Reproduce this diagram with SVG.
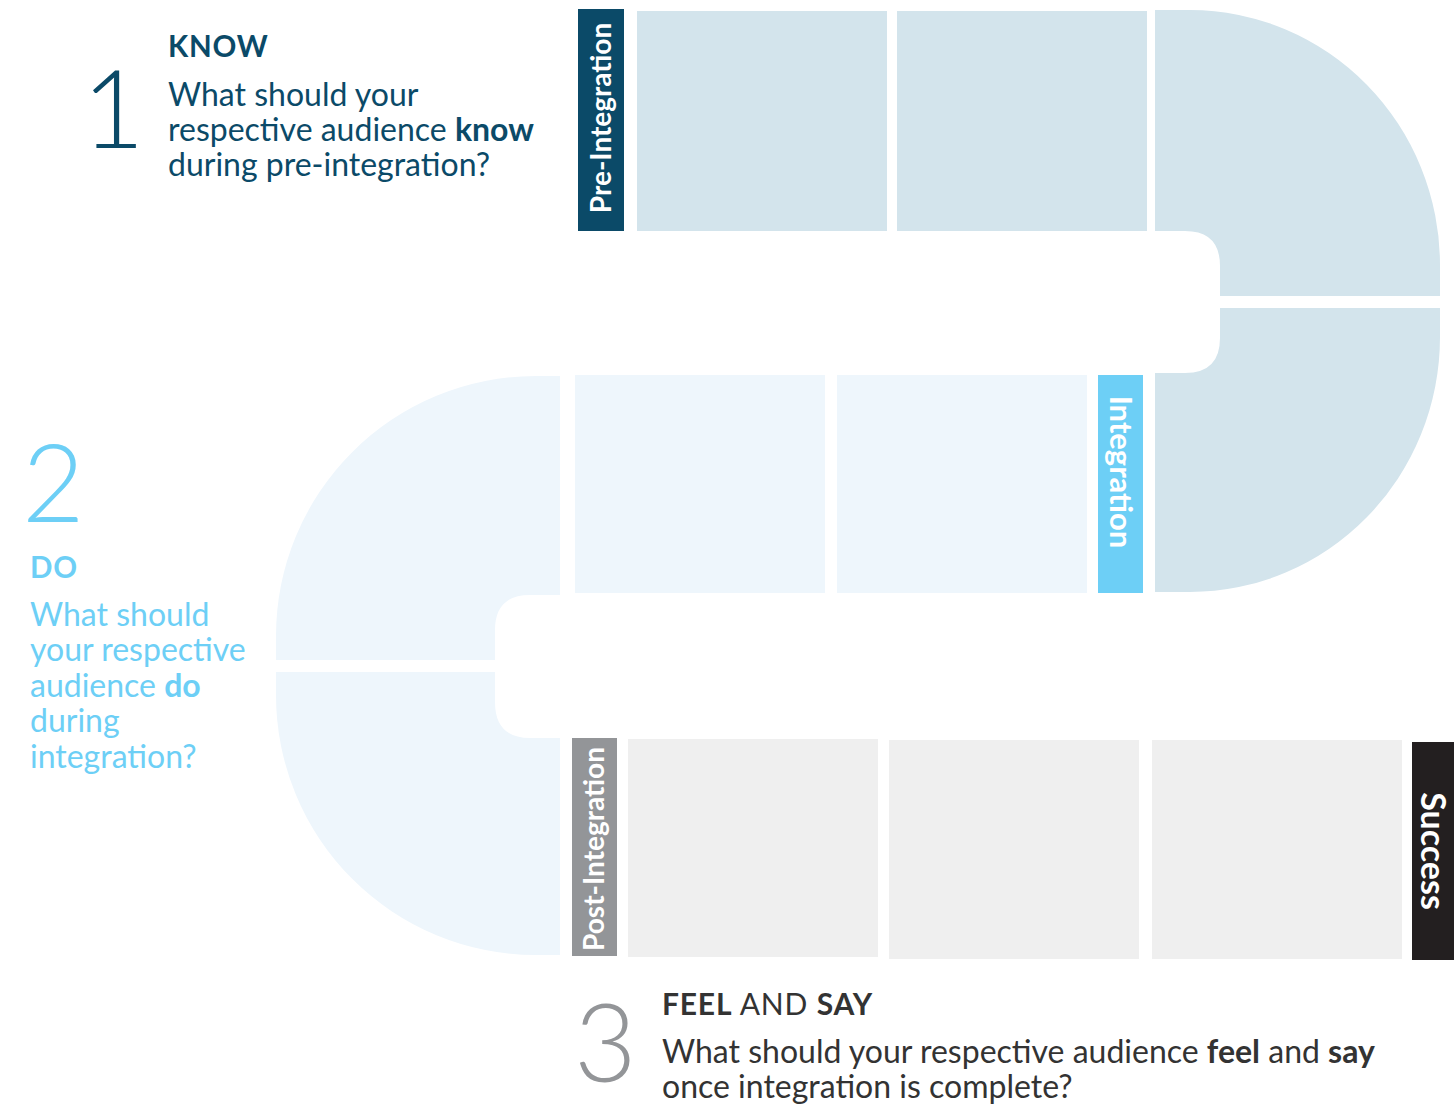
<svg xmlns="http://www.w3.org/2000/svg" width="1454" height="1109" viewBox="0 0 1454 1109">
<style>
.t{font-family:Lato,"Open Sans","DejaVu Sans",sans-serif}
.big{font-size:108px;font-weight:300}
.head{font-size:29.5px;font-weight:700;letter-spacing:0.8px}
.body{font-size:32px}
.b{font-weight:700}
.lbl{font-size:28px;font-weight:700;fill:#fff}
.pre{fill:#d3e4ec}
.mid{fill:#eef6fc}
.post{fill:#efefef}
</style>
<rect width="1454" height="1109" fill="#fff"/>

<g id="stage1-text" class="t" fill="#0b4a68">
  <text x="82" y="148" class="big">1</text>
  <text x="168" y="57" class="head">KNOW</text>
  <text class="body"><tspan x="168" y="106">What should your</tspan><tspan x="168" y="141">respective audience <tspan class="b">know</tspan></tspan><tspan x="168" y="176">during pre-integration?</tspan></text>
</g>

<g id="pre-integration">
  <rect x="578" y="9" width="46" height="222" fill="#0b4a68"/>
  <text class="t lbl" transform="translate(611,118) rotate(-90)" text-anchor="middle">Pre-Integration</text>
  <rect class="pre" x="637" y="11" width="250" height="220"/>
  <rect class="pre" x="897" y="11" width="250" height="220"/>
  <path class="pre" d="M1155,10 H1190 A250,255 0 0 1 1440,265 V296 H1220 V266 Q1220,231 1185,231 H1155 Z"/>
  <path class="pre" d="M1155,592 H1190 A250,255 0 0 0 1440,337 V308 H1220 V338 Q1220,373 1185,373 H1155 Z"/>
</g>

<g id="stage2-text" class="t" fill="#6dcff6">
  <text x="22" y="522" class="big">2</text>
  <text x="30" y="578" class="head">DO</text>
  <text class="body"><tspan x="30" y="626">What should</tspan><tspan x="30" y="661">your respective</tspan><tspan x="30" y="697">audience <tspan class="b">do</tspan></tspan><tspan x="30" y="732">during</tspan><tspan x="30" y="768">integration?</tspan></text>
</g>

<g id="integration">
  <path class="mid" d="M560,376 H536 A260,260 0 0 0 276,636 V660 H495 V630 Q495,595 530,595 H560 Z"/>
  <path class="mid" d="M560,955 H536 A260,260 0 0 1 276,695 V672 H495 V702 Q495,738 530,738 H560 Z"/>
  <rect class="mid" x="575" y="375" width="250" height="218"/>
  <rect class="mid" x="837" y="375" width="250" height="218"/>
  <rect x="1098" y="375" width="45" height="218" fill="#6dcff6"/>
  <text class="t lbl" style="font-size:31px" transform="translate(1110,472) rotate(90)" text-anchor="middle">Integration</text>
</g>

<g id="post-integration">
  <rect x="572" y="738" width="45" height="218" fill="#939598"/>
  <text class="t lbl" transform="translate(604,849) rotate(-90)" text-anchor="middle">Post-Integration</text>
  <rect class="post" x="628" y="739" width="250" height="218"/>
  <rect class="post" x="889" y="740" width="250" height="219"/>
  <rect class="post" x="1152" y="740" width="250" height="219"/>
</g>

<g id="success">
  <rect x="1412" y="742" width="42" height="218" fill="#231f20"/>
  <text class="t lbl" style="font-size:34px" transform="translate(1421,851) rotate(90)" text-anchor="middle">Success</text>
</g>

<g id="stage3-text" class="t" fill="#333">
  <text x="574" y="1082" class="big" fill="#939598">3</text>
  <text x="662" y="1015" class="head" style="font-size:30px"><tspan>FEEL</tspan><tspan font-weight="400"> AND </tspan><tspan>SAY</tspan></text>
  <text class="body"><tspan x="662" y="1063">What should your respective audience <tspan class="b">feel</tspan> and <tspan class="b">say</tspan></tspan><tspan x="662" y="1098">once integration is complete?</tspan></text>
</g>

<g id="connectors"></g>
</svg>
